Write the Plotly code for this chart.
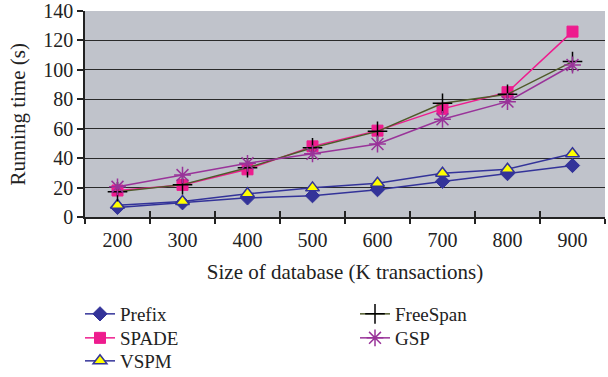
import plotly.graph_objects as go

sizes = ["200", "300", "400", "500", "600", "700", "800", "900"]
prefix = [6.5, 9.7, 13, 14.5, 18.6, 24.2, 29.5, 35]
spade = [18, 21.8, 32.4, 48, 58.7, 73.5, 84.8, 126]
vspm = [8, 10.5, 15.8, 19.8, 22.9, 29.7, 32.5, 43]
freespan = [17.2, 22, 33.5, 47, 58.2, 77.3, 83.4, 105.6]
gsp = [20.5, 28.5, 36.5, 43, 49.6, 66.4, 78.4, 103.3]

FONT = "Liberation Serif"

fig = go.Figure()

def add(name, y, color, symbol, size, mcolor, mline, mlw, legend):
    fig.add_trace(go.Scatter(
        x=sizes, y=y, name=name, mode="lines+markers",
        line=dict(color=color, width=1.5),
        marker=dict(symbol=symbol, size=size, color=mcolor,
                    line=dict(color=mline, width=mlw)),
        legend=legend,
    ))

add("Prefix", prefix, "#333399", "diamond", 11, "#333399", "#333399", 1, "legend")
add("SPADE", spade, "#EE1C8E", "square", 11, "#EE1C8E", "#EE1C8E", 1, "legend2")
add("VSPM", vspm, "#333399", "triangle-up", 12, "#FFFF00", "#333399", 1.5, "legend3")
add("FreeSpan", freespan, "#4F5A2A", "cross-thin", 14, "#000000", "#000000", 1.5, "legend4")
add("GSP", gsp, "#993399", "asterisk", 14, "#993399", "#993399", 1.5, "legend5")

# invisible trace to carry the inside x ticks
fig.add_trace(go.Scatter(x=sizes, y=prefix, xaxis="x2", mode="markers",
                         marker=dict(opacity=0), showlegend=False, hoverinfo="skip"))

def leg(x, y):
    return dict(font=dict(family=FONT, size=19, color="#222222"),
                bgcolor="rgba(0,0,0,0)", orientation="v",
                xref="container", yref="container",
                x=x, y=y, xanchor="left", yanchor="middle")

fig.update_layout(
    width=608, height=377,
    margin=dict(l=85, r=3, t=11, b=160, autoexpand=False),
    paper_bgcolor="white",
    plot_bgcolor="#C0C3CB",
    font=dict(family=FONT, size=19, color="#222222"),
    legend=leg(80 / 608, 1 - 314 / 377),
    legend2=leg(80 / 608, 1 - 338 / 377),
    legend3=leg(80 / 608, 1 - 361 / 377),
    legend4=leg(355 / 608, 1 - 314 / 377),
    legend5=leg(355 / 608, 1 - 338 / 377),
    xaxis=dict(
        type="category", categoryorder="array", categoryarray=sizes,
        range=[-0.5, 7.5], tickson="boundaries", ticks="outside", ticklen=5,
        tickcolor="#222222", tickwidth=1.5, automargin=False,
        showline=True, linecolor="#222222", linewidth=1.5,
        showgrid=False, zeroline=False, tickangle=0, ticklabelstandoff=4,
        tickfont=dict(family=FONT, size=20),
        title=dict(text="Size of database (K transactions)",
                   font=dict(family=FONT, size=21)),
    ),
    xaxis2=dict(
        type="category", categoryorder="array", categoryarray=sizes,
        overlaying="x", anchor="y", side="bottom",
        range=[-0.5, 7.5], tickson="boundaries", ticks="inside", ticklen=6,
        tickcolor="#222222", tickwidth=1.5, showticklabels=False,
        showgrid=False, zeroline=False, showline=False,
    ),
    yaxis=dict(
        range=[0, 140], dtick=20, ticks="outside", ticklen=6,
        tickcolor="#222222", tickwidth=1.5, automargin=False,
        showline=True, linecolor="#222222", linewidth=1.5,
        showgrid=True, gridcolor="#2a2a2a", gridwidth=1,
        zeroline=False,
        tickfont=dict(family=FONT, size=20),
    ),
    annotations=[dict(
        text="Running time (s)", textangle=-90,
        xref="paper", yref="paper", x=-0.128, y=0.5,
        xanchor="center", yanchor="middle", showarrow=False,
        font=dict(family=FONT, size=21, color="#222222"),
    )],
)

fig.write_html("out.html")
